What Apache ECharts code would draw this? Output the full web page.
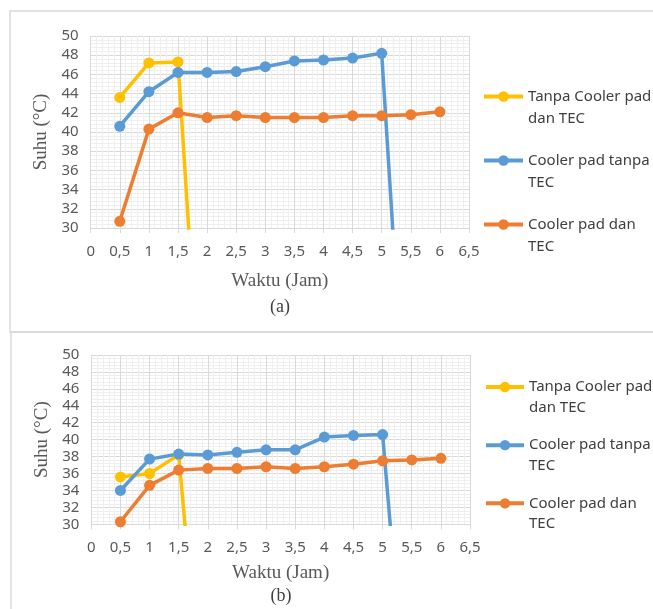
<!DOCTYPE html>
<html><head><meta charset="utf-8">
<script src="https://cdn.jsdelivr.net/npm/echarts@6/dist/echarts.min.js"></script>
<style>html,body{margin:0;padding:0;background:#fff}#c{width:653px;height:609px}</style>
</head><body><div id="c"></div>
<script>
const seriesNames = ['Tanpa Cooler pad dan TEC', 'Cooler pad tanpa TEC', 'Cooler pad dan TEC'];
const legendLabels = ['Tanpa Cooler pad\ndan TEC', 'Cooler pad tanpa\nTEC', 'Cooler pad dan\nTEC'];
const colors = ['#FFC000', '#5B9BD5', '#ED7D31'];
const times = [0.5, 1, 1.5, 2, 2.5, 3, 3.5, 4, 4.5, 5, 5.5, 6];
const xTicks = [0, 0.5, 1, 1.5, 2, 2.5, 3, 3.5, 4, 4.5, 5, 5.5, 6, 6.5];
const yTicks = [30, 32, 34, 36, 38, 40, 42, 44, 46, 48, 50];
// Panel (a)
const aTanpa = [43.6, 47.2, 47.3, 0];
const aPadTanpaTEC = [40.6, 44.2, 46.2, 46.2, 46.3, 46.8, 47.4, 47.5, 47.7, 48.2, 0];
const aPadTEC = [30.7, 40.3, 42.0, 41.5, 41.7, 41.5, 41.5, 41.5, 41.7, 41.7, 41.8, 42.1];
// Panel (b)
const bTanpa = [35.6, 36.0, 38.2, 0];
const bPadTanpaTEC = [34.0, 37.7, 38.3, 38.2, 38.5, 38.8, 38.8, 40.3, 40.5, 40.6, 0];
const bPadTEC = [30.3, 34.6, 36.4, 36.6, 36.6, 36.8, 36.6, 36.8, 37.1, 37.5, 37.6, 37.8];

const pairs = v => v.map((y, i) => [times[i], y]);
const fmt = v => String(v).replace('.', ',');
const tickFont = { fontFamily: 'Noto Sans', fontSize: 15, color: '#595959' };
const nameFont = { fontFamily: 'Liberation Serif', fontSize: 19, color: '#595959' };

function xAxis(gridIndex, nameGap) {
  return {
    type: 'value', gridIndex, min: xTicks[0], max: xTicks[xTicks.length - 1], interval: 0.5,
    name: 'Waktu (Jam)', nameLocation: 'middle', nameGap, nameTextStyle: nameFont,
    axisLine: { show: true, lineStyle: { color: '#d9d9d9', width: 1 } },
    axisTick: { show: true, length: 5, lineStyle: { color: '#d9d9d9' } },
    axisLabel: Object.assign({ margin: 16, formatter: fmt }, tickFont),
    splitLine: { show: true, lineStyle: { color: '#d9d9d9', width: 1 } },
    minorTick: { show: false, splitNumber: 5 },
    minorSplitLine: { show: true, lineStyle: { color: '#efefef', width: 1 } }
  };
}
function yAxis(gridIndex, nameGap) {
  return {
    type: 'value', gridIndex, min: yTicks[0], max: yTicks[yTicks.length - 1], interval: 2,
    name: 'Suhu (°C)', nameLocation: 'middle', nameGap, nameTextStyle: nameFont,
    axisLine: { show: false }, axisTick: { show: false },
    axisLabel: Object.assign({ margin: 12, formatter: fmt }, tickFont),
    splitLine: { show: true, lineStyle: { color: '#d9d9d9', width: 1 } },
    minorTick: { show: false, splitNumber: 5 },
    minorSplitLine: { show: true, lineStyle: { color: '#efefef', width: 1 } }
  };
}
function line(name, data, idx, color) {
  return {
    type: 'line', name, data: pairs(data), xAxisIndex: idx, yAxisIndex: idx,
    symbol: 'circle', symbolSize: 11, clip: true, animation: false,
    lineStyle: { color, width: 3.5 }, itemStyle: { color }
  };
}
function legend(left, top, lineH, gap, w) {
  return {
    orient: 'vertical', left, top, padding: 0, itemWidth: w, itemHeight: 13, itemGap: gap,
    lineStyle: { width: 4 },
    data: seriesNames,
    formatter: n => '\n' + legendLabels[seriesNames.indexOf(n)],
    textStyle: { fontFamily: 'Noto Sans', fontSize: 15, color: '#404040', lineHeight: lineH },
    selectedMode: false
  };
}

const chart = echarts.init(document.getElementById('c'), null, { renderer: 'canvas' });
chart.setOption({
  animation: false,
  color: colors,
  grid: [
    { left: 90.7, top: 36, width: 378.3, height: 192, containLabel: false },
    { left: 91.3, top: 355, width: 378.7, height: 169.3, containLabel: false }
  ],
  xAxis: [xAxis(0, 44), xAxis(1, 39)],
  yAxis: [yAxis(0, 39), yAxis(1, 37)],
  legend: [legend(482, 63.5, 22, -2, 39), legend(484, 356.2, 20.5, -3.3, 38)],
  graphic: [
    { type: 'rect', shape: { x: 10, y: 11, width: 660, height: 321 }, style: { fill: 'none', stroke: '#d9d9d9', lineWidth: 1.5 }, silent: true },
    { type: 'rect', shape: { x: 11, y: 332, width: 660, height: 300 }, style: { fill: 'none', stroke: '#d9d9d9', lineWidth: 1.5 }, silent: true },
    { type: 'text', style: { text: '(a)', x: 280, y: 307, textAlign: 'center', textVerticalAlign: 'middle', font: '18px "Liberation Serif"', fill: '#404040' } },
    { type: 'text', style: { text: '(b)', x: 281, y: 596, textAlign: 'center', textVerticalAlign: 'middle', font: '18px "Liberation Serif"', fill: '#404040' } }
  ],
  series: [
    line(seriesNames[0], aTanpa, 0, colors[0]),
    line(seriesNames[1], aPadTanpaTEC, 0, colors[1]),
    line(seriesNames[2], aPadTEC, 0, colors[2]),
    line(seriesNames[0], bTanpa, 1, colors[0]),
    line(seriesNames[1], bPadTanpaTEC, 1, colors[1]),
    line(seriesNames[2], bPadTEC, 1, colors[2])
  ]
});
</script></body></html>
